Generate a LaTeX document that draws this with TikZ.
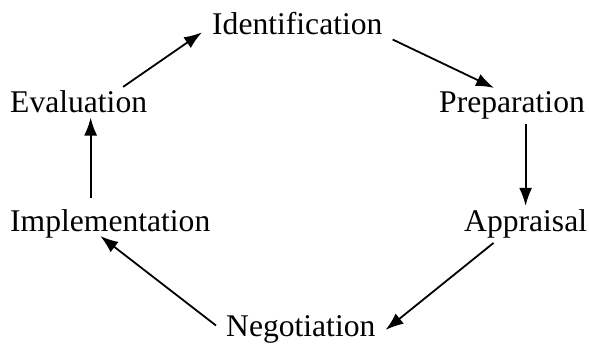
\documentclass[tikz,border=0pt]{standalone}
\usepackage{fontspec}
\setmainfont{Liberation Serif}
\usetikzlibrary{arrows.meta,calc}

\tikzset{
  stage/.style={anchor=base west, inner xsep=10pt, inner ysep=4pt,
    font=\fontsize{31.6}{36}\selectfont},
  flow/.style={-{Latex[length=18pt,width=13pt]}, line width=1.8pt},
}

\begin{document}
\begin{tikzpicture}[x=1pt,y=1pt]
  %\draw[help lines, step=20] (0,0) grid (589,353);
  \useasboundingbox (0,0) rectangle (589,353);
  \node[stage] (ident) at (202,318) {Identification};
  \node[stage] (prep) at (429,240) {Preparation};
  \node[stage] (appr) at (454,121) {Appraisal};
  \node[stage] (nego) at (216,16) {Negotiation};
  \node[stage] (impl) at (0,121) {Implementation};
  \node[stage] (eval) at (0,240) {Evaluation};

  \coordinate (evalfoot) at ([xshift=12pt]eval.south);

  \draw[flow] (eval.19) -- (ident.185);
  \draw[flow] (ident.south east) -- (prep.135);
  \draw[flow] (prep.south -| appr.north) -- (appr.north);
  \draw[flow] (appr.210) -- (nego.east);
  \draw[flow] (nego.177) -- ([shift={(-10pt,-4pt)}]impl.base);
  \draw[flow, shorten <=8pt] (evalfoot |- impl.north) -- (evalfoot);
\end{tikzpicture}
\end{document}
